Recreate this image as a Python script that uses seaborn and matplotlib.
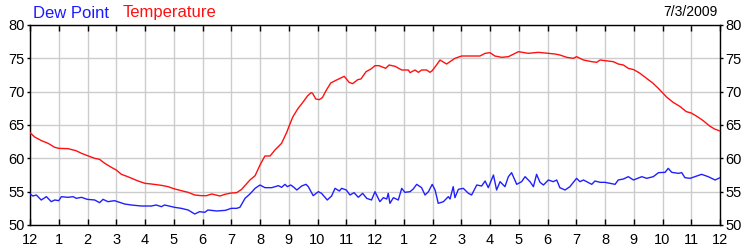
import matplotlib
matplotlib.use("Agg")
import matplotlib.pyplot as plt
import seaborn as sns
import pandas as pd

# ---- data (hours since midnight, degrees F) ----
temp_hours = [0.0, 0.16, 0.4, 0.63, 0.86, 1.0, 1.32, 1.6, 1.79, 2.0, 2.25, 2.42, 2.6, 2.83,
              3.0, 3.18, 3.4, 3.76, 4.0, 4.22, 4.57, 4.8, 5.0, 5.26, 5.5, 5.73, 5.96, 6.14,
              6.32, 6.61, 6.78, 7.0, 7.19, 7.36, 7.65, 7.83, 8.0, 8.17, 8.35, 8.52, 8.75,
              8.93, 9.0, 9.14, 9.31, 9.49, 9.66, 9.78, 9.83, 9.94, 10.06, 10.17, 10.29,
              10.46, 10.64, 10.81, 10.93, 11.1, 11.22, 11.4, 11.51, 11.69, 11.86,
              12.0, 12.14, 12.37, 12.49, 12.7, 12.93, 13.16, 13.22, 13.39, 13.51, 13.62,
              13.8, 13.91, 13.99, 14.14, 14.26, 14.49, 14.78, 15.01, 15.65, 15.83, 16.0,
              16.17, 16.41, 16.64, 16.99, 17.33, 17.68, 18.03, 18.26, 18.43, 18.67, 18.9,
              19.01, 19.25, 19.54, 19.71, 19.83, 20.0, 20.29, 20.46, 20.64, 20.81, 21.0,
              21.2, 21.43, 21.66, 21.83, 22.0, 22.14, 22.37, 22.6, 22.83, 23.0, 23.23,
              23.4, 23.64, 23.81, 24.0]
temp_values = [63.85, 63.2, 62.65, 62.25, 61.65, 61.5, 61.45, 61.15, 60.75, 60.4, 60.0, 59.85,
               59.25, 58.65, 58.25, 57.6, 57.25, 56.6, 56.25, 56.15, 55.95, 55.75, 55.45,
               55.15, 54.9, 54.5, 54.4, 54.4, 54.65, 54.35, 54.6, 54.8, 54.85, 55.35, 56.75,
               57.4, 59.0, 60.35, 60.35, 61.25, 62.25, 63.9, 64.7, 66.2, 67.4, 68.4, 69.4,
               69.85, 69.75, 68.9, 68.8, 69.1, 70.1, 71.3, 71.7, 72.05, 72.3, 71.4, 71.2,
               71.8, 71.9, 73.0, 73.4,
               73.9, 73.9, 73.5, 74.0, 73.8, 73.25, 73.25, 72.85, 73.25, 72.9, 73.25,
               73.25, 72.9, 73.15, 74.0, 74.75, 74.15, 75.0, 75.35, 75.35, 75.75, 75.85,
               75.35, 75.15, 75.25, 76.0, 75.75, 75.9, 75.75, 75.65, 75.5, 75.15, 75.0,
               75.25, 74.75, 74.5, 74.4, 74.75, 74.65, 74.5, 74.15, 74.0, 73.5, 73.3,
               72.8, 72.05, 71.3, 70.6, 69.85, 69.2, 68.4, 67.8, 67.0, 66.8, 66.2,
               65.7, 64.85, 64.4, 64.1]

dew_hours = [0.0, 0.1, 0.22, 0.39, 0.57, 0.74, 0.86, 1.0, 1.09, 1.32, 1.5, 1.61, 1.79, 1.99,
             2.25, 2.42, 2.54, 2.71, 2.94, 3.29, 3.52, 3.87, 3.99, 4.22, 4.39, 4.57, 4.68,
             5.03, 5.26, 5.5, 5.73, 5.9, 6.08, 6.19, 6.5, 6.8, 7.0, 7.19, 7.3, 7.48, 7.65,
             7.83, 8.0, 8.17, 8.41, 8.64, 8.75, 8.87, 8.95, 9.07, 9.18, 9.28, 9.45, 9.6,
             9.68, 9.85, 10.03, 10.14, 10.34, 10.49, 10.61, 10.76, 10.84, 11.0, 11.13,
             11.27, 11.42, 11.57, 11.71, 11.88, 12.0,
             12.17, 12.29, 12.41, 12.46, 12.52, 12.64, 12.81, 12.93, 13.04, 13.22, 13.33,
             13.45, 13.62, 13.74, 13.86, 13.99, 14.09, 14.2, 14.38, 14.55, 14.61, 14.72,
             14.78, 14.9, 15.07, 15.25, 15.36, 15.54, 15.71, 15.83, 15.94, 16.12, 16.23,
             16.35, 16.52, 16.64, 16.75, 16.93, 17.1, 17.22, 17.39, 17.51, 17.62, 17.74,
             17.86, 18.03, 18.2, 18.32, 18.43, 18.61, 18.78, 19.01, 19.13, 19.25, 19.54,
             19.65, 19.83, 20.0, 20.35, 20.46, 20.64, 20.81, 20.99, 21.28, 21.45, 21.68,
             21.86, 22.09, 22.2, 22.32, 22.55, 22.67, 22.78, 22.96, 23.13, 23.36, 23.59,
             23.83, 24.0]
dew_values = [54.65, 54.35, 54.5, 53.75, 54.25, 53.5, 53.75, 53.65, 54.25, 54.15, 54.25, 54.0,
              54.15, 53.85, 53.75, 53.35, 53.85, 53.5, 53.65, 53.15, 53.0, 52.85, 52.85,
              52.85, 53.0, 52.75, 53.0, 52.65, 52.5, 52.25, 51.65, 52.0, 51.9, 52.25, 52.1,
              52.2, 52.5, 52.5, 52.65, 54.0, 54.65, 55.5, 56.0, 55.6, 55.6, 55.9, 55.65,
              56.1, 55.75, 56.0, 55.65, 55.25, 55.85, 56.1, 55.75, 54.4, 55.0, 54.75, 53.75,
              54.35, 55.5, 55.1, 55.5, 55.25, 54.5, 54.85, 54.15, 54.75, 54.0, 53.75, 55.0,
              53.5, 54.1, 53.9, 54.75, 53.25, 54.1, 53.75, 55.5, 54.9, 55.0, 55.4, 56.1,
              55.6, 54.5, 55.0, 56.1, 55.25, 53.25, 53.5, 54.25, 53.9, 55.75, 54.1, 55.35,
              55.5, 54.75, 54.5, 56.0, 55.85, 56.6, 55.6, 57.5, 55.25, 56.5, 55.75, 57.25,
              57.85, 56.1, 56.5, 57.25, 56.5, 55.75, 57.6, 56.4, 56.0, 56.75, 56.5, 56.75,
              55.6, 55.25, 55.75, 57.0, 56.5, 56.75, 56.1, 56.6, 56.4, 56.4, 56.1, 56.75,
              56.9, 57.25, 56.75, 57.25, 57.0, 57.25, 57.85, 57.9, 58.5, 57.9, 57.75, 57.85,
              57.1, 57.0, 57.25, 57.6, 57.25, 56.75, 57.1]

hour_ticks = list(range(25))
hour_labels = ["12", "1", "2", "3", "4", "5", "6", "7", "8", "9", "10", "11",
               "12", "1", "2", "3", "4", "5", "6", "7", "8", "9", "10", "11", "12"]
y_ticks = [50, 55, 60, 65, 70, 75, 80]
date_label = "7/3/2009"

temp_df = pd.DataFrame({"hour": temp_hours, "value": temp_values})
dew_df = pd.DataFrame({"hour": dew_hours, "value": dew_values})

sns.set_style("white")
plt.rcParams["font.family"] = ["Liberation Sans", "DejaVu Sans"]

fig = plt.figure(figsize=(7.5, 2.5), dpi=100)
ax = fig.add_axes([30 / 750, 25 / 250, 690 / 750, 200 / 250])

sns.lineplot(data=dew_df, x="hour", y="value", ax=ax, color="#2020ff", lw=1.0,
             estimator=None, sort=False, zorder=3)
sns.lineplot(data=temp_df, x="hour", y="value", ax=ax, color="#ff1010", lw=1.0,
             estimator=None, sort=False, zorder=4)

ax.set_xlim(0, 24)
ax.set_ylim(50, 80)
ax.set_xticks(hour_ticks)
ax.set_xticklabels(hour_labels)
ax.set_yticks(y_ticks)
ax.set_xlabel("")
ax.set_ylabel("")
ax.grid(True, color="#cccccc", lw=1.0, zorder=0)
ax.set_axisbelow(True)

for s in ax.spines.values():
    s.set_visible(True)
    s.set_color("black")
    s.set_linewidth(1.0)

ax.tick_params(axis="x", which="both", direction="in", length=4, width=1, color="black",
               top=True, bottom=True, labelsize=10.5, pad=6, labelcolor="black")
ax.tick_params(axis="y", which="both", direction="out", length=2, width=1, color="black",
               left=True, right=True, labelleft=True, labelright=True, labelsize=10.5,
               pad=2, labelcolor="black")

fig.text(33 / 750, 1 - 13 / 250, "Dew Point", color="#1a1aff", fontsize=12, va="center", ha="left")
fig.text(123 / 750, 1 - 13 / 250, "Temperature", color="#ff1010", fontsize=12, va="center", ha="left")
fig.text(718 / 750, 1 - 12 / 250, date_label, color="black", fontsize=10, va="center", ha="right")

fig.savefig("out.png", dpi=100)
